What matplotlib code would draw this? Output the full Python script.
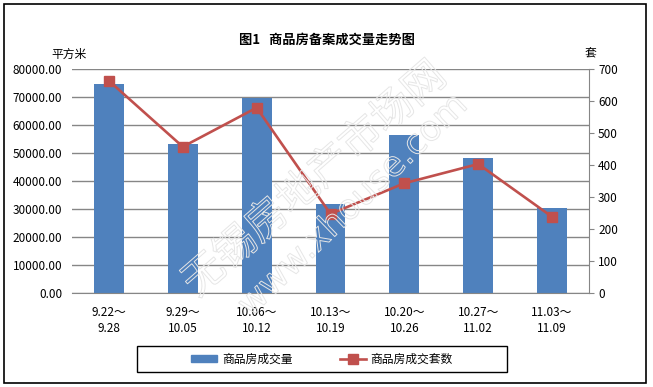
import matplotlib
matplotlib.use("Agg")
import matplotlib.pyplot as plt
import matplotlib.patches as patches
import matplotlib.patheffects as pe
from matplotlib.lines import Line2D

plt.rcParams['font.family'] = ['Noto Sans CJK SC', 'DejaVu Sans']
plt.rcParams['font.size'] = 8.5

# 数据
weeks = ["9.22～\n9.28", "9.29～\n10.05", "10.06～\n10.12", "10.13～\n10.19",
         "10.20～\n10.26", "10.27～\n11.02", "11.03～\n11.09"]
area = [74600, 53200, 69700, 31800, 56400, 48200, 30400]   # 平方米
units = [663, 457, 579, 247, 343, 403, 238]                # 套

W, H = 653, 387
fig = plt.figure(figsize=(W / 100, H / 100), dpi=100)
ax = fig.add_axes([72 / W, 1 - 293 / H, (589 - 72) / W, (293 - 69) / H])
ax2 = ax.twinx()

x = list(range(len(weeks)))
ax.bar(x, area, width=0.405, color='#4F81BD', zorder=2)
ax2.plot(x, units, color='#C0504D', lw=1.9, marker='s', ms=7,
         mfc='#C0504D', mec='#C0504D', zorder=3)

ax.set_xlim(-0.5, 6.5)
ax.set_ylim(0, 80000)
ax.set_yticks(range(0, 80001, 10000))
ax.set_yticklabels([f"{v}.00" for v in range(0, 80001, 10000)])
ax2.set_ylim(0, 700)
ax2.set_yticks(range(0, 701, 100))

ax.grid(axis='y', color='#868686', lw=1, zorder=0)
ax.set_axisbelow(True)
for s in ['top', 'left', 'right']:
    ax.spines[s].set_visible(False)
for s in ['top', 'left', 'bottom']:
    ax2.spines[s].set_visible(False)
ax.spines['bottom'].set_color('#868686')
ax2.spines['right'].set_color('#868686')

ax.tick_params(axis='y', length=0, pad=7)
ax.tick_params(axis='x', length=0, pad=9)
ax2.tick_params(axis='y', length=3.5, color='#868686', direction='out', pad=3)
ax.set_xticks(x)
ax.set_xticklabels(weeks, linespacing=1.35)

fig.text(0.5, 1 - 40 / H, "图1   商品房备案成交量走势图", ha='center', va='center',
         fontsize=9.5, fontweight='bold')
fig.text(69 / W, 1 - 54 / H, "平方米", ha='center', va='center')
fig.text(590 / W, 1 - 54 / H, "套", ha='center', va='center')

# 水印
wm = [pe.Stroke(linewidth=0.7, foreground='#e6e6e6')]
fig.text(315 / W, 1 - 180 / H, "无锡房地产市场网", rotation=41, ha='center', va='center',
         fontsize=30, color='none', zorder=10, path_effects=wm)
fig.text(353 / W, 1 - 205 / H, "www.xhouse.com", rotation=44, ha='center', va='center',
         fontsize=25, color='none', zorder=10, family='DejaVu Sans', path_effects=wm)

# 图例
handles = [patches.Patch(color='#4F81BD'),
           Line2D([], [], color='#C0504D', lw=1.9, marker='s', ms=7)]
fig.legend(handles, ["商品房成交量", "商品房成交套数"], ncol=2, frameon=False,
           loc='center', bbox_to_anchor=(322 / W, 1 - 359 / H),
           handlelength=2.2, handleheight=0.6, columnspacing=4.0, handletextpad=0.4)
fig.add_artist(patches.Rectangle((137 / W, 1 - 372 / H), 370 / W, 26 / H,
                                 transform=fig.transFigure, fill=False,
                                 edgecolor='black', lw=1))
fig.add_artist(patches.Rectangle((3.5 / W, 1 - 383 / H), 642 / W, 379 / H,
                                 transform=fig.transFigure, fill=False,
                                 edgecolor='black', lw=1.2))

fig.savefig("out.png", dpi=100)
